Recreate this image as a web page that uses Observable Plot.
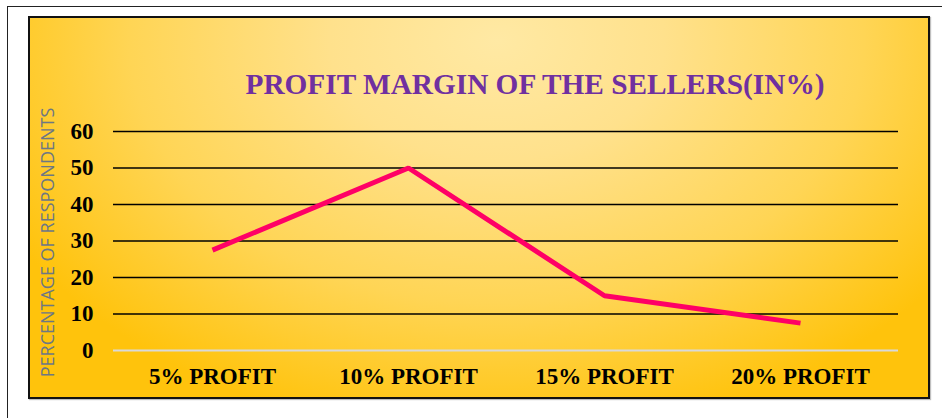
<!DOCTYPE html>
<html>
<head>
<meta charset="utf-8">
<script src="https://cdn.jsdelivr.net/npm/d3@7"></script>
<script src="https://cdn.jsdelivr.net/npm/@observablehq/plot@0.6"></script>
<style>
  html, body { margin: 0; padding: 0; background: #fff; }
  #wrap { position: relative; width: 942px; height: 418px; overflow: hidden; background: #fff; }
  #outer { position: absolute; left: 7px; top: 6px; width: 960px; height: 440px; border: 1.5px solid #222; box-sizing: border-box; }
  #panel { position: absolute; left: 28px; top: 16px; width: 902px; height: 383px; box-sizing: border-box;
    border: 2px solid #111;
    box-shadow: 1px 1px 1px rgba(0,0,0,0.25);
    background: radial-gradient(ellipse 62% 105% at 52% 6%, #ffe9a4 0%, #ffe18c 30%, #ffd555 66%, #ffc30c 100%); }
  #title { position: absolute; left: 535px; top: 70px; transform: translateX(-50%); white-space: nowrap;
    font: bold 29.3px "Liberation Serif", "Times New Roman", serif; line-height: 29px; color: #7030A0; }
  #chart { position: absolute; left: 0; top: 0; }
</style>
</head>
<body>
<div id="wrap">
  <div id="outer"></div>
  <div id="panel"></div>
  <div id="title">PROFIT MARGIN OF THE SELLERS(IN%)</div>
  <div id="chart"></div>
</div>
<script>
const categories = ["5% PROFIT", "10% PROFIT", "15% PROFIT", "20% PROFIT"];
const values = [27.5, 50, 15, 7.5];
const yTicks = [0, 10, 20, 30, 40, 50, 60];
const yLabel = "PERCENTAGE OF RESPONDENTS";

const data = categories.map((c, i) => ({cat: c, value: values[i]}));

const chart = Plot.plot({
  width: 942,
  height: 418,
  marginLeft: 113,
  marginRight: 44,
  marginTop: 131,
  marginBottom: 68,
  style: {background: "transparent", fontFamily: "'Liberation Serif', 'Times New Roman', serif", overflow: "visible"},
  x: {type: "point", domain: categories, padding: 0.5, label: null},
  y: {domain: [0, 60], ticks: yTicks, label: null},
  marks: [
    Plot.ruleY(yTicks.filter(d => d > 0), {stroke: "#000", strokeWidth: 1.5}),
    Plot.ruleY([0], {stroke: "#d9d9d9", strokeWidth: 2}),
    Plot.axisY({ticks: yTicks, tickSize: 0, tickPadding: 20, fontSize: 23, fontWeight: "bold", fill: "#000", label: null}),
    Plot.axisX({tickSize: 0, tickPadding: 17, fontSize: 23, fontWeight: "bold", fill: "#000", label: null}),
    Plot.line(data, {x: "cat", y: "value", stroke: "#FF0066", strokeWidth: 5, strokeLinecap: "butt", strokeLinejoin: "miter"}),
    Plot.text([yLabel], {frameAnchor: "left", rotate: -90, dx: -65, dy: 1.5, fontSize: 18,
      fontFamily: "'Open Sans', sans-serif", fill: "#6d7784", textAnchor: "middle", lineAnchor: "middle"})
  ]
});
document.getElementById("chart").appendChild(chart);
</script>
</body>
</html>
